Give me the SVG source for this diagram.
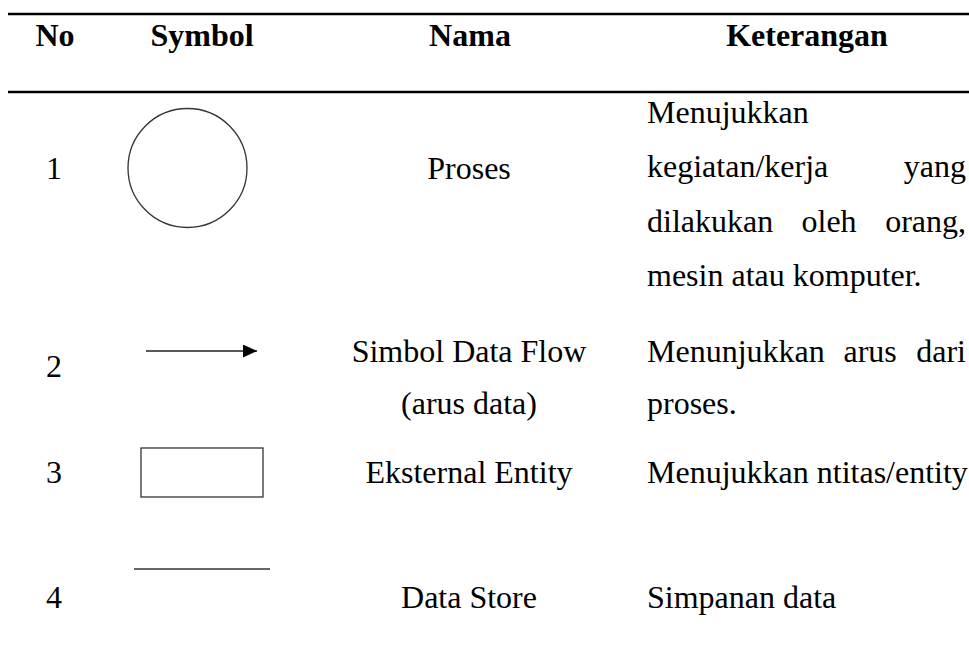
<svg xmlns="http://www.w3.org/2000/svg" width="969" height="647" viewBox="0 0 969 647">
  <style>
    text { font-family: 'Liberation Serif', serif; font-size: 32px; fill: #000; }
    .head { font-weight: bold; }
    .mid { text-anchor: middle; }
    .end { text-anchor: end; }
    .rule { stroke: #000; stroke-width: 2.5; }
    .sym { fill: none; stroke: #333; stroke-width: 1.3; }
  </style>
  <defs>
    <marker id="flowHead" markerWidth="14" markerHeight="13" refX="14" refY="6.5" orient="auto" markerUnits="userSpaceOnUse">
      <path d="M0,0 L14,6.5 L0,13 Z" fill="#000"/>
    </marker>
  </defs>
  <rect width="969" height="647" fill="#fff"/>

  <!-- table rules -->
  <g id="rules">
    <line class="rule" x1="8" y1="14" x2="969" y2="14"/>
    <line class="rule" x1="8" y1="92" x2="969" y2="92"/>
  </g>

  <!-- header row -->
  <g id="header" font-family="Liberation Serif, serif">
    <text class="head mid" x="55" y="46">No</text>
    <text class="head mid" x="202" y="46">Symbol</text>
    <text class="head mid" x="470" y="46">Nama</text>
    <text class="head mid" x="807" y="46">Keterangan</text>
  </g>

  <!-- row 1: process -->
  <g id="row-proses">
    <text class="mid" x="54" y="179">1</text>
    <circle class="sym" cx="187.5" cy="168" r="59.5"/>
    <text class="mid" x="469" y="179">Proses</text>
    <text x="647" y="123">Menujukkan</text>
    <text x="647" y="177">kegiatan/kerja</text>
    <text class="end" x="966" y="177">yang</text>
    <text x="647" y="232">dilakukan</text>
    <text x="801.5" y="232">oleh</text>
    <text class="end" x="966" y="232">orang,</text>
    <text x="647" y="286">mesin atau komputer.</text>
  </g>

  <!-- row 2: data flow -->
  <g id="row-dataflow">
    <text class="mid" x="54" y="377">2</text>
    <text class="mid" x="469" y="362">Simbol Data Flow</text>
    <text class="mid" x="469" y="414">(arus data)</text>
    <text x="647" y="362">Menunjukkan</text>
    <text x="843.5" y="362">arus</text>
    <text class="end" x="966" y="362">dari</text>
    <text x="647" y="414">proses.</text>
  </g>

  <!-- data flow symbol -->
  <g id="connectors">
    <line x1="146" y1="351" x2="257" y2="351" stroke="#222" stroke-width="1.3" marker-end="url(#flowHead)"/>
  </g>

  <!-- row 3: external entity -->
  <g id="row-entity">
    <text class="mid" x="54" y="483">3</text>
    <rect class="sym" x="141" y="448" width="122" height="49" stroke-width="1.6"/>
    <text class="mid" x="469" y="483">Eksternal Entity</text>
    <text x="647" y="483">Menujukkan ntitas/entity</text>
  </g>

  <!-- row 4: data store -->
  <g id="row-datastore">
    <text class="mid" x="54" y="608">4</text>
    <line class="sym" x1="134" y1="569" x2="270" y2="569"/>
    <text class="mid" x="469" y="608">Data Store</text>
    <text x="647" y="608">Simpanan data</text>
  </g>
</svg>
